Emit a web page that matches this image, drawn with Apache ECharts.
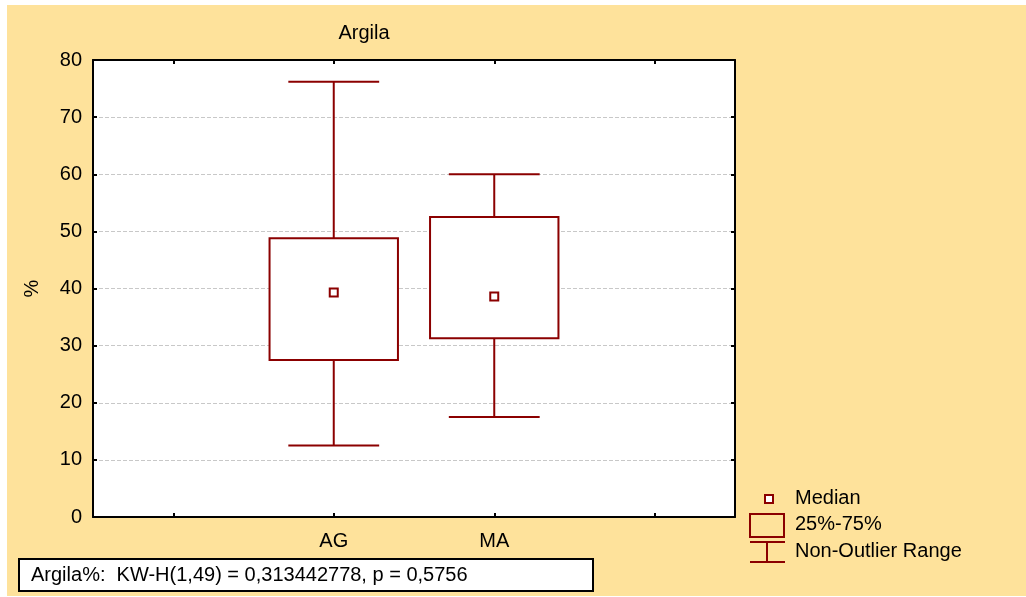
<!DOCTYPE html>
<html>
<head>
<meta charset="utf-8">
<style>
html,body{margin:0;padding:0;background:#fff;}
#chart{width:1026px;height:597px;}
</style>
<script src="https://cdn.jsdelivr.net/npm/echarts@6/dist/echarts.min.js"></script>
</head>
<body>
<div id="chart"></div>
<script>
// ---- data ----
const categories = [' ', 'AG', 'MA', '  '];
const groups = ['AG', 'MA'];
const minVals = [12.5, 17.5];
const q1Vals = [27.5, 31.3];
const medianVals = [39.3, 38.6];
const q3Vals = [48.8, 52.5];
const maxVals = [76.2, 60.0];
const yTicks = [0, 10, 20, 30, 40, 50, 60, 70, 80];
const titleText = 'Argila';
const yName = '%';
const statText = 'Argila%:  KW-H(1,49) = 0,313442778, p = 0,5756';
const legendItems = ['Median', '25%-75%', 'Non-Outlier Range'];

const RED = '#8b0000';
const BG = '#fee29b';
const FONT = 'Liberation Sans, Arial, sans-serif';
const FS = 20;

const boxData = groups.map((g, i) => [categories.indexOf(g), minVals[i], q1Vals[i], medianVals[i], q3Vals[i], maxVals[i]]);

function renderBox(params, api) {
  const x = api.value(0);
  const band = api.size([1, 0])[0];
  const boxHalf = band * 0.4;
  const capHalf = band * 0.283;
  const pLo = api.coord([x, api.value(1)]);
  const pQ1 = api.coord([x, api.value(2)]);
  const pMed = api.coord([x, api.value(3)]);
  const pQ3 = api.coord([x, api.value(4)]);
  const pHi = api.coord([x, api.value(5)]);
  const cx = pMed[0];
  const ls = { stroke: RED, lineWidth: 2, fill: null };
  return {
    type: 'group',
    children: [
      { type: 'line', shape: { x1: cx, y1: pHi[1], x2: cx, y2: pQ3[1] }, style: ls },
      { type: 'line', shape: { x1: cx, y1: pQ1[1], x2: cx, y2: pLo[1] }, style: ls },
      { type: 'line', shape: { x1: cx - capHalf, y1: pHi[1], x2: cx + capHalf, y2: pHi[1] }, style: ls },
      { type: 'line', shape: { x1: cx - capHalf, y1: pLo[1], x2: cx + capHalf, y2: pLo[1] }, style: ls },
      { type: 'rect', shape: { x: cx - boxHalf, y: pQ3[1], width: boxHalf * 2, height: pQ1[1] - pQ3[1] }, style: { stroke: RED, lineWidth: 2, fill: '#fff' } },
      { type: 'rect', shape: { x: cx - 4, y: pMed[1] - 4, width: 8, height: 8 }, style: { stroke: RED, lineWidth: 2, fill: '#fff' } }
    ]
  };
}

const chart = echarts.init(document.getElementById('chart'), null, { renderer: 'canvas' });

const axisLine = { show: true, onZero: false, lineStyle: { color: '#000', width: 2 } };
const tickInside = { show: true, inside: true, length: 4, lineStyle: { color: '#000', width: 2 } };

const option = {
  animation: false,
  backgroundColor: '#fff',
  grid: { left: 93, right: 291, top: 60, bottom: 80, show: true, backgroundColor: '#fff', borderWidth: 0 },
  xAxis: [
    {
      type: 'category', data: categories, position: 'bottom',
      axisLine: axisLine, axisTick: Object.assign({ alignWithLabel: true }, tickInside),
      axisLabel: { color: '#000', fontSize: FS, fontFamily: FONT, margin: 14, interval: 0 },
      splitLine: { show: false }
    },
    {
      type: 'category', data: categories, position: 'top',
      axisLine: axisLine, axisTick: Object.assign({ alignWithLabel: true }, tickInside),
      axisLabel: { show: false }, splitLine: { show: false }
    }
  ],
  yAxis: [
    {
      type: 'value', min: yTicks[0], max: yTicks[yTicks.length - 1], interval: 10, position: 'left',
      name: yName, nameLocation: 'middle', nameGap: 51, nameRotate: 90,
      nameTextStyle: { color: '#000', fontSize: FS, fontFamily: FONT },
      axisLine: axisLine, axisTick: tickInside,
      axisLabel: { color: '#000', fontSize: FS, fontFamily: FONT, margin: 11 },
      splitLine: { show: true, lineStyle: { color: '#c8c8c8', type: [4, 2], width: 1 } }
    },
    {
      type: 'value', min: yTicks[0], max: yTicks[yTicks.length - 1], interval: 10, position: 'right',
      axisLine: axisLine, axisTick: tickInside, axisLabel: { show: false }, splitLine: { show: false }
    }
  ],
  series: [{
    type: 'custom',
    xAxisIndex: 0, yAxisIndex: 0,
    renderItem: renderBox,
    encode: { x: 0, y: [1, 2, 3, 4, 5] },
    data: boxData,
    z: 10
  }],
  graphic: [
    { type: 'rect', z: -10, silent: true, shape: { x: 7, y: 5, width: 1019, height: 591 }, style: { fill: BG } },
    { type: 'text', x: 364, y: 33, style: { text: titleText, fill: '#000', font: FS + 'px ' + FONT, textAlign: 'center', textVerticalAlign: 'middle' } },
    // legend: median
    { type: 'rect', shape: { x: 765, y: 495, width: 8, height: 8 }, style: { stroke: RED, lineWidth: 2, fill: '#fff' } },
    { type: 'text', x: 795, y: 498, style: { text: legendItems[0], fill: '#000', font: FS + 'px ' + FONT, textVerticalAlign: 'middle' } },
    // legend: box
    { type: 'rect', shape: { x: 750, y: 514, width: 34, height: 23 }, style: { stroke: RED, lineWidth: 2, fill: null } },
    { type: 'text', x: 795, y: 524, style: { text: legendItems[1], fill: '#000', font: FS + 'px ' + FONT, textVerticalAlign: 'middle' } },
    // legend: whisker
    { type: 'line', shape: { x1: 750, y1: 542, x2: 785, y2: 542 }, style: { stroke: RED, lineWidth: 2 } },
    { type: 'line', shape: { x1: 750, y1: 562, x2: 785, y2: 562 }, style: { stroke: RED, lineWidth: 2 } },
    { type: 'line', shape: { x1: 767, y1: 542, x2: 767, y2: 562 }, style: { stroke: RED, lineWidth: 2 } },
    { type: 'text', x: 795, y: 551, style: { text: legendItems[2], fill: '#000', font: FS + 'px ' + FONT, textVerticalAlign: 'middle' } },
    // stats box
    { type: 'rect', shape: { x: 19, y: 559, width: 574, height: 32 }, style: { stroke: '#000', lineWidth: 2, fill: '#fff' } },
    { type: 'text', x: 31, y: 575, style: { text: statText, fill: '#000', font: FS + 'px ' + FONT, textVerticalAlign: 'middle' } }
  ]
};
chart.setOption(option);
</script>
</body>
</html>
